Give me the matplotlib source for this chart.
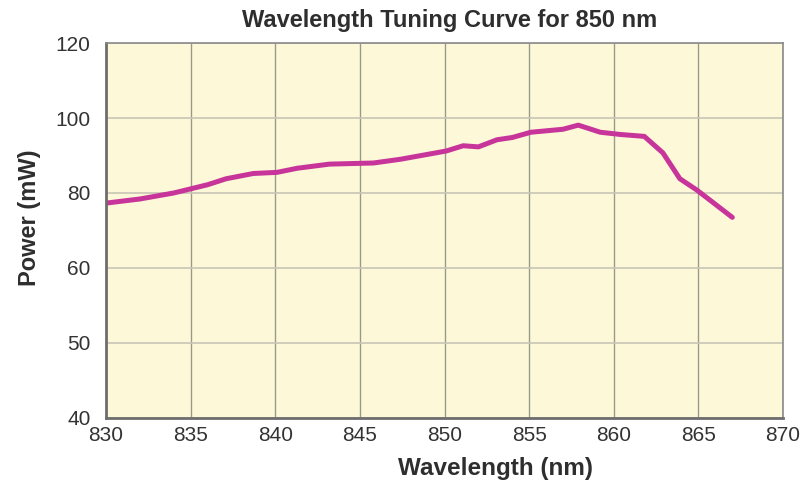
import matplotlib
matplotlib.use("Agg")
import matplotlib.pyplot as plt
import numpy as np

plt.rcParams['font.family'] = ['Liberation Sans', 'DejaVu Sans']

# wavelength (nm) / power (mW)
wavelength = [830.0, 832.0, 834.0, 836.0, 837.1, 838.7, 840.1, 841.3, 843.2, 845.8,
              847.4, 850.1, 851.1, 852.0, 853.1, 854.0, 855.1, 857.0, 857.9, 859.2,
              860.4, 861.8, 862.9, 863.9, 864.9, 867.0]
power = [77.3, 78.4, 80.0, 82.2, 83.8, 85.2, 85.5, 86.6, 87.7, 88.0,
         89.0, 91.2, 92.6, 92.3, 94.2, 94.8, 96.2, 97.0, 98.1, 96.2,
         95.6, 95.1, 90.7, 83.8, 80.8, 73.5]

x_ticks = [830, 835, 840, 845, 850, 855, 860, 865, 870]
y_ticks = [40, 50, 60, 80, 100, 120]

# the y axis puts its ticks at equal spacing although the steps differ
y_pos = np.arange(len(y_ticks), dtype=float)


def fwd(v):
    return np.interp(v, y_ticks, y_pos)


def inv(p):
    return np.interp(p, y_pos, y_ticks)


fig = plt.figure(figsize=(8.09, 4.86), dpi=100)
ax = fig.add_axes([0.131, 0.140, 0.837, 0.7715])
ax.set_facecolor("#fdf9d8")

ax.set_yscale("function", functions=(fwd, inv))
ax.set_xlim(830, 870)
ax.set_ylim(40, 120)
ax.set_xticks(x_ticks)
ax.set_yticks(y_ticks)
ax.set_yticklabels([str(t) for t in y_ticks])
ax.minorticks_off()

ax.grid(True, axis="x", color="#9a9a8c", linewidth=1.0)
ax.grid(True, axis="y", color="#c8c6b4", linewidth=1.2)
ax.set_axisbelow(True)

ax.plot(wavelength, power, color="#c8359a", linewidth=3.6, solid_capstyle="round",
        solid_joinstyle="round")

for side in ["left", "bottom"]:
    ax.spines[side].set_color("#6e6e6e")
    ax.spines[side].set_linewidth(2.0)
for side in ["top", "right"]:
    ax.spines[side].set_color("#8a8a8a")
    ax.spines[side].set_linewidth(1.2)

ax.tick_params(length=0, labelsize=15, colors="#333333")
ax.tick_params(axis="x", pad=6)
ax.tick_params(axis="y", pad=11)

# title and axis labels sit where the reference puts them
fig.text(450 / 809, 1 - 21 / 486, "Wavelength Tuning Curve for 850 nm", fontsize=17,
         fontweight="bold", color="#2e2e2e", ha="center", va="center")
fig.text(495 / 809, 1 - 468 / 486, "Wavelength (nm)", fontsize=17.5,
         fontweight="bold", color="#2e2e2e", ha="center", va="center")
fig.text(30 / 809, 1 - 218 / 486, "Power (mW)", fontsize=17, rotation=90,
         fontweight="bold", color="#2e2e2e", ha="center", va="center")

plt.savefig("out.png", dpi=100)
plt.close()
